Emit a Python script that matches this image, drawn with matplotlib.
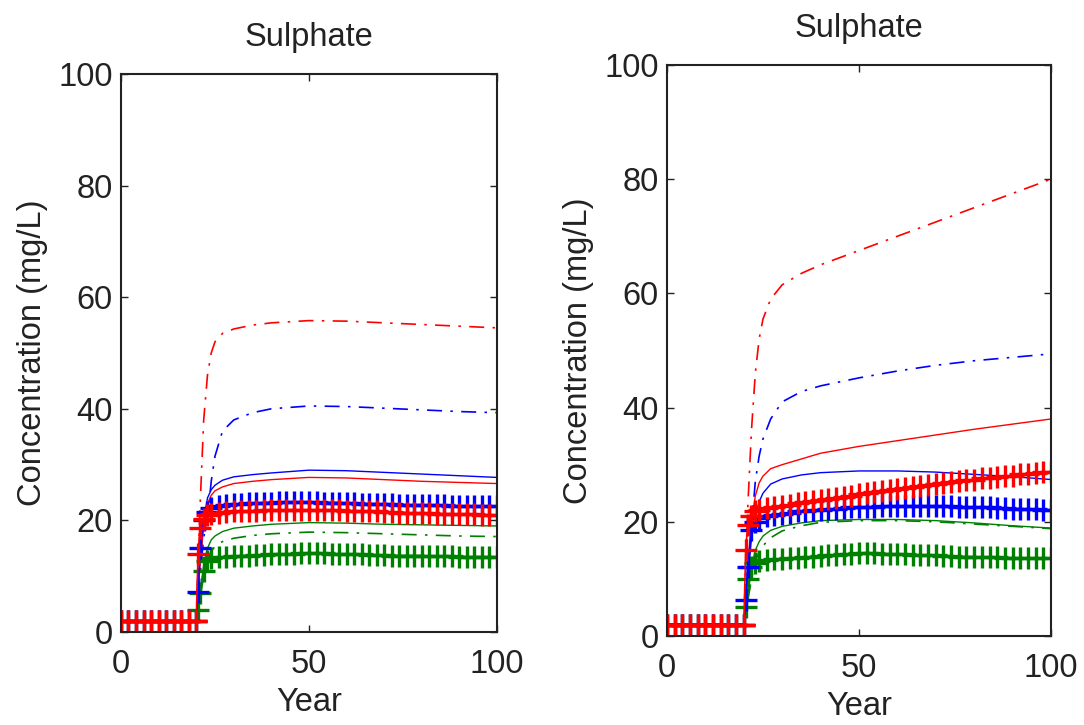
import numpy as np
import matplotlib
matplotlib.use("Agg")
import matplotlib.pyplot as plt

plt.rcParams['font.family'] = ['Liberation Sans', 'DejaVu Sans']

# years of the simulated curves
years_l = [0, 20, 21, 22, 23, 24, 25, 27, 30, 35, 40, 50, 60, 70, 80, 90, 100]
# years of the marked (+) series
years_m = [0, 2, 4, 6, 8, 10, 12, 14, 16, 18, 20, 20.5, 21, 22, 23, 24] + list(range(26, 101, 2))

# ---- left panel ----
L_red_dd = [2, 2, 22, 38, 46, 50, 52, 53.5, 54.3, 55, 55.4, 55.8, 55.7, 55.4, 55.1, 54.8, 54.5]
L_blue_dd = [2, 2, 10, 17, 20, 27, 31.5, 36, 38, 39.3, 40, 40.5, 40.4, 40.1, 39.8, 39.5, 39.3]
L_blue_s = [2, 2, 12, 20, 24, 25.5, 26.3, 27.2, 27.8, 28.2, 28.5, 29, 28.9, 28.6, 28.3, 28, 27.7]
L_red_s = [2, 2, 12, 19, 23, 24.5, 25.3, 26, 26.6, 27, 27.3, 27.7, 27.6, 27.3, 27, 26.8, 26.6]
L_green_s = [2, 2, 7, 12, 15, 16.5, 17.2, 18, 18.6, 19, 19.3, 19.6, 19.5, 19.3, 19.2, 19.1, 19]
L_green_dd = [2, 2, 6, 10, 13, 14.5, 15.3, 16.2, 16.8, 17.3, 17.6, 17.9, 17.8, 17.6, 17.4, 17.2, 17.1]

L_red_p = [2] * 11 + [14, 18.6, 20.3, 21, 21.2,
           21.4, 21.5, 21.6, 21.6, 21.7, 21.7, 21.8, 21.8, 21.8, 21.9, 21.9, 21.9, 21.9,
           21.9, 21.8, 21.8, 21.8, 21.7, 21.7, 21.6, 21.6, 21.6, 21.5, 21.5, 21.4, 21.4,
           21.3, 21.3, 21.3, 21.2, 21.2, 21.2, 21.1, 21.1, 21.1, 21.0, 21.0, 21.0]
L_blue_p = [2] * 11 + [7.2, 15, 20, 21.5, 22.2,
            22.6, 22.8, 22.9, 23.0, 23.1, 23.1, 23.2, 23.2, 23.3, 23.3, 23.3, 23.3, 23.3,
            23.3, 23.2, 23.2, 23.2, 23.1, 23.1, 23.0, 23.0, 23.0, 22.9, 22.9, 22.8, 22.8,
            22.8, 22.8, 22.7, 22.7, 22.7, 22.6, 22.6, 22.6, 22.5, 22.5, 22.5, 22.5]
L_green_p = [2] * 11 + [4, 7, 11, 12.8, 13.2,
             13.4, 13.5, 13.6, 13.7, 13.7, 13.8, 13.8, 13.9, 13.9, 14.0, 14.0, 14.1, 14.2,
             14.1, 14.1, 14.0, 14.0, 13.9, 13.9, 13.9, 13.8, 13.8, 13.8, 13.7, 13.7, 13.7,
             13.7, 13.7, 13.6, 13.6, 13.6, 13.6, 13.5, 13.5, 13.5, 13.5, 13.5, 13.5]

# ---- right panel ----
R_red_dd = [2, 2, 22, 36, 46, 52, 55.5, 59, 61.5, 63.5, 65, 67.5, 70, 72.5, 75, 77.5, 80]
R_blue_dd = [2, 2, 10, 19, 27, 31.5, 34.5, 38, 41, 42.8, 43.8, 45.2, 46.4, 47.4, 48.2, 48.8, 49.4]
R_red_s = [2, 2, 12, 20, 24.5, 26.8, 28, 29.3, 30, 31, 32, 33.2, 34.2, 35.2, 36.2, 37.1, 38]
R_blue_s = [2, 2, 10, 17, 21, 23.5, 25, 26.6, 27.5, 28.2, 28.6, 28.9, 28.9, 28.7, 28.3, 27.9, 27.4]
R_green_s = [2, 2, 7, 12, 15, 16.5, 17.5, 18.5, 19.2, 19.8, 20.2, 20.4, 20.4, 20.2, 19.8, 19.3, 18.9]
R_green_dd = [2, 2, 6, 10, 13, 14.8, 15.8, 17.2, 18.4, 19.3, 19.9, 20.2, 20.2, 20, 19.6, 19.2, 18.8]

R_red_p = [2] * 11 + [15, 19.4, 21, 21.8, 22.1,
           22.4, 22.6, 22.8, 23.0, 23.2, 23.4, 23.6, 23.8, 24.0, 24.2, 24.4, 24.6, 24.8,
           25.0, 25.2, 25.4, 25.6, 25.8, 26.0, 26.1, 26.3, 26.5, 26.6, 26.8, 27.0, 27.1,
           27.3, 27.4, 27.6, 27.7, 27.9, 28.0, 28.1, 28.3, 28.4, 28.5, 28.7, 28.8]
R_blue_p = [2] * 11 + [6.3, 12, 18.6, 20, 20.6,
            21.0, 21.2, 21.4, 21.6, 21.8, 21.9, 22.0, 22.1, 22.2, 22.3, 22.4, 22.5, 22.6,
            22.6, 22.6, 22.7, 22.7, 22.7, 22.8, 22.8, 22.8, 22.8, 22.8, 22.7, 22.7, 22.6,
            22.6, 22.6, 22.5, 22.5, 22.4, 22.4, 22.3, 22.3, 22.2, 22.2, 22.1, 22.1]
R_green_p = [2] * 11 + [5, 10, 12, 12.8, 13.1,
             13.3, 13.4, 13.5, 13.6, 13.7, 13.8, 13.9, 14.0, 14.1, 14.2, 14.3, 14.4, 14.5,
             14.5, 14.5, 14.4, 14.4, 14.3, 14.3, 14.2, 14.2, 14.1, 14.1, 14.0, 14.0, 13.9,
             13.9, 13.9, 13.8, 13.8, 13.8, 13.7, 13.7, 13.7, 13.6, 13.6, 13.6, 13.6]

RED = '#ff0000'
BLUE = '#0000ff'
GREEN = '#008000'
DASHDOT = (0, (9, 5, 1.5, 5))
TXT = '#222222'
FS = 23.5

fig = plt.figure(figsize=(10.84, 7.25), dpi=100)
ax1 = fig.add_axes([0.1116, 0.1283, 0.3469, 0.7697])
ax2 = fig.add_axes([0.6153, 0.1228, 0.3542, 0.7876])


def draw(ax, red_dd, blue_dd, red_s, blue_s, green_s, green_dd, green_p, blue_p, red_p):
    ax.plot(years_l, red_dd, color=RED, lw=1.2, ls=DASHDOT)
    ax.plot(years_l, blue_dd, color=BLUE, lw=1.2, ls=DASHDOT)
    ax.plot(years_l, blue_s, color=BLUE, lw=1.0)
    ax.plot(years_l, red_s, color=RED, lw=1.0)
    ax.plot(years_l, green_s, color=GREEN, lw=1.0)
    ax.plot(years_l, green_dd, color=GREEN, lw=1.2, ls=DASHDOT)
    for vals, col in [(green_p, GREEN), (blue_p, BLUE), (red_p, RED)]:
        ax.plot(years_m, vals, color=col, lw=1.2, marker='+', ms=16, mew=2.4)

    ax.set_xlim(0, 100)
    ax.set_ylim(0, 100)
    ax.set_xticks([0, 50, 100])
    ax.set_yticks([0, 20, 40, 60, 80, 100])
    ax.tick_params(direction='in', top=True, right=True, length=5, width=1,
                   labelsize=FS, colors=TXT)
    ax.tick_params(axis='x', pad=12)
    ax.tick_params(axis='y', pad=6)
    for s in ax.spines.values():
        s.set_linewidth(1.5)
        s.set_color(TXT)
    ax.set_title('Sulphate', fontsize=FS, pad=20, color=TXT)
    ax.set_xlabel('Year', fontsize=FS, labelpad=5, color=TXT)
    ax.set_ylabel('Concentration (mg/L)', fontsize=FS, labelpad=7, color=TXT)


draw(ax1, L_red_dd, L_blue_dd, L_red_s, L_blue_s, L_green_s, L_green_dd,
     L_green_p, L_blue_p, L_red_p)
draw(ax2, R_red_dd, R_blue_dd, R_red_s, R_blue_s, R_green_s, R_green_dd,
     R_green_p, R_blue_p, R_red_p)

fig.savefig('out.png', dpi=100)
